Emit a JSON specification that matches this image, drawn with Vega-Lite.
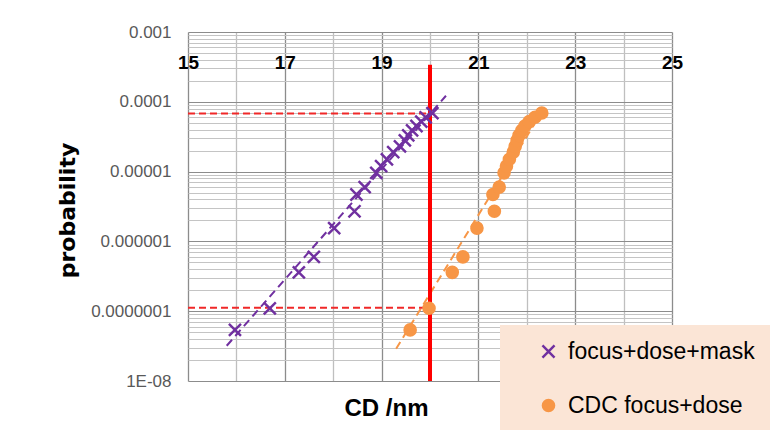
{
  "$schema": "https://vega.github.io/schema/vega-lite/v6.json",
  "autosize": {"type": "none"},
  "padding": {"left": 188, "top": 32, "right": 109, "bottom": 49},
  "width": 484,
  "height": 349,
  "background": "white",
  "config": {"view": {"stroke": null}, "font": "Liberation Sans"},
  "datasets": {
    "pts": [
      {"series": "focus+dose+mask", "cd": 15.97, "prob": 5.4e-8},
      {"series": "focus+dose+mask", "cd": 16.69, "prob": 1.1e-7},
      {"series": "focus+dose+mask", "cd": 17.29, "prob": 3.6e-7},
      {"series": "focus+dose+mask", "cd": 17.60, "prob": 6.0e-7},
      {"series": "focus+dose+mask", "cd": 18.02, "prob": 1.55e-6},
      {"series": "focus+dose+mask", "cd": 18.44, "prob": 2.7e-6},
      {"series": "focus+dose+mask", "cd": 18.48, "prob": 4.7e-6},
      {"series": "focus+dose+mask", "cd": 18.65, "prob": 6.0e-6},
      {"series": "focus+dose+mask", "cd": 18.89, "prob": 9.6e-6},
      {"series": "focus+dose+mask", "cd": 18.99, "prob": 1.2e-5},
      {"series": "focus+dose+mask", "cd": 19.11, "prob": 1.5e-5},
      {"series": "focus+dose+mask", "cd": 19.24, "prob": 1.9e-5},
      {"series": "focus+dose+mask", "cd": 19.38, "prob": 2.3e-5},
      {"series": "focus+dose+mask", "cd": 19.48, "prob": 2.8e-5},
      {"series": "focus+dose+mask", "cd": 19.55, "prob": 3.3e-5},
      {"series": "focus+dose+mask", "cd": 19.63, "prob": 3.9e-5},
      {"series": "focus+dose+mask", "cd": 19.72, "prob": 4.5e-5},
      {"series": "focus+dose+mask", "cd": 19.82, "prob": 5.2e-5},
      {"series": "focus+dose+mask", "cd": 19.91, "prob": 6.0e-5},
      {"series": "focus+dose+mask", "cd": 20.05, "prob": 6.9e-5},
      {"series": "CDC focus+dose", "cd": 19.59, "prob": 5.4e-8},
      {"series": "CDC focus+dose", "cd": 19.98, "prob": 1.1e-7},
      {"series": "CDC focus+dose", "cd": 20.46, "prob": 3.6e-7},
      {"series": "CDC focus+dose", "cd": 20.68, "prob": 6.0e-7},
      {"series": "CDC focus+dose", "cd": 20.97, "prob": 1.55e-6},
      {"series": "CDC focus+dose", "cd": 21.33, "prob": 2.7e-6},
      {"series": "CDC focus+dose", "cd": 21.30, "prob": 4.7e-6},
      {"series": "CDC focus+dose", "cd": 21.43, "prob": 6.0e-6},
      {"series": "CDC focus+dose", "cd": 21.53, "prob": 9.6e-6},
      {"series": "CDC focus+dose", "cd": 21.58, "prob": 1.2e-5},
      {"series": "CDC focus+dose", "cd": 21.64, "prob": 1.5e-5},
      {"series": "CDC focus+dose", "cd": 21.72, "prob": 1.9e-5},
      {"series": "CDC focus+dose", "cd": 21.76, "prob": 2.3e-5},
      {"series": "CDC focus+dose", "cd": 21.80, "prob": 2.8e-5},
      {"series": "CDC focus+dose", "cd": 21.84, "prob": 3.3e-5},
      {"series": "CDC focus+dose", "cd": 21.90, "prob": 3.9e-5},
      {"series": "CDC focus+dose", "cd": 21.96, "prob": 4.5e-5},
      {"series": "CDC focus+dose", "cd": 22.05, "prob": 5.2e-5},
      {"series": "CDC focus+dose", "cd": 22.17, "prob": 6.0e-5},
      {"series": "CDC focus+dose", "cd": 22.31, "prob": 6.9e-5}
    ],
    "fit": [
      {"series": "focus+dose+mask", "cd": 15.80, "prob": 3.2e-8},
      {"series": "focus+dose+mask", "cd": 20.33, "prob": 1.22e-4},
      {"series": "CDC focus+dose", "cd": 19.30, "prob": 2.9e-8},
      {"series": "CDC focus+dose", "cd": 22.39, "prob": 8.8e-5}
    ],
    "hrules": [
      {"prob": 6.8e-5, "cd1": 15, "cd2": 20},
      {"prob": 1.12e-7, "cd1": 15, "cd2": 20}
    ],
    "vrule": [
      {"cd": 20, "p1": 3.4e-4, "p2": 1e-8}
    ]
  },
  "layer": [
    {
      "data": {"name": "fit"},
      "transform": [{"filter": "datum.series == 'focus+dose+mask'"}],
      "mark": {"type": "line", "color": "#7030A0", "strokeWidth": 2, "strokeDash": [8, 5]},
      "encoding": {
        "x": {
          "field": "cd", "type": "quantitative",
          "scale": {"domain": [15, 25], "nice": false, "zero": false},
          "axis": {
            "orient": "top",
            "values": [15, 16, 17, 18, 19, 20, 21, 22, 23, 24, 25],
            "labelExpr": "datum.value % 2 == 1 ? datum.label : ''",
            "labelFont": "Liberation Sans",
            "labelFontWeight": "bold",
            "labelFontSize": 19,
            "labelColor": "black",
            "labelPadding": -30,
            "labelBaseline": "middle",
            "labelFlush": false,
            "labelOverlap": false,
            "labelBound": false,
            "ticks": false,
            "tickSize": 0,
            "domain": false,
            "grid": true,
            "gridColor": {"condition": {"test": "datum.value % 2 == 1", "value": "#8c8c8c"}, "value": "#bfbfbf"},
            "gridWidth": 1.3,
            "title": "CD /nm",
            "titleFont": "Liberation Sans",
            "titleFontSize": 24,
            "titleFontWeight": "bold",
            "titleColor": "black",
            "titleX": 198,
            "titleY": 364,
            "titleBaseline": "top",
            "titleAlign": "center",
            "titleAngle": 0
          }
        },
        "y": {
          "field": "prob", "type": "quantitative",
          "scale": {"type": "log", "domain": [1e-8, 1e-3], "nice": false},
          "axis": {
            "values": [1e-8, 2e-8, 3e-8, 4e-8, 5e-8, 6e-8, 7e-8, 8e-8, 9e-8,
                       1e-7, 2e-7, 3e-7, 4e-7, 5e-7, 6e-7, 7e-7, 8e-7, 9e-7,
                       1e-6, 2e-6, 3e-6, 4e-6, 5e-6, 6e-6, 7e-6, 8e-6, 9e-6,
                       1e-5, 2e-5, 3e-5, 4e-5, 5e-5, 6e-5, 7e-5, 8e-5, 9e-5,
                       1e-4, 2e-4, 3e-4, 4e-4, 5e-4, 6e-4, 7e-4, 8e-4, 9e-4, 1e-3],
            "labelExpr": "datum.value == 1e-8 ? '1E-08' : (abs(log(datum.value)/LN10 - round(log(datum.value)/LN10)) < 0.001 ? format(datum.value, '.7~f') : '')",
            "labelFont": "Liberation Sans",
            "labelFontSize": 17,
            "labelColor": "#595959",
            "labelPadding": 17,
            "labelOverlap": false,
            "labelBound": false,
            "labelFlush": false,
            "ticks": false,
            "tickSize": 0,
            "domain": false,
            "grid": true,
            "gridColor": {"condition": {"test": "abs(log(datum.value)/LN10 - round(log(datum.value)/LN10)) < 0.001", "value": "#8c8c8c"}, "value": "#c4c4c4"},
            "gridWidth": 1.2,
            "title": "probability",
            "titleFont": "DejaVu Sans",
            "titleFontSize": 22,
            "titleFontWeight": "bold",
            "titleColor": "black",
            "titleAngle": -90,
            "titleX": -121,
            "titleY": 178,
            "titleBaseline": "middle",
            "titleAlign": "center"
          }
        }
      }
    },
    {
      "data": {"name": "fit"},
      "transform": [{"filter": "datum.series == 'CDC focus+dose'"}],
      "mark": {"type": "line", "color": "#F79646", "strokeWidth": 2, "strokeDash": [8, 5]},
      "encoding": {
        "x": {"field": "cd", "type": "quantitative"},
        "y": {"field": "prob", "type": "quantitative"}
      }
    },
    {
      "data": {"name": "hrules"},
      "mark": {"type": "rule", "color": "#F02828", "strokeWidth": 2, "strokeDash": [7, 4]},
      "encoding": {
        "y": {"field": "prob", "type": "quantitative"},
        "x": {"field": "cd1", "type": "quantitative"},
        "x2": {"field": "cd2"}
      }
    },
    {
      "data": {"name": "vrule"},
      "mark": {"type": "rule", "color": "#FF0000", "strokeWidth": 4},
      "encoding": {
        "x": {"field": "cd", "type": "quantitative"},
        "y": {"field": "p1", "type": "quantitative"},
        "y2": {"field": "p2"}
      }
    },
    {
      "data": {"name": "pts"},
      "mark": {"type": "point", "filled": true, "opacity": 1, "strokeWidth": 0},
      "encoding": {
        "x": {"field": "cd", "type": "quantitative"},
        "y": {"field": "prob", "type": "quantitative"},
        "size": {
          "field": "series", "type": "nominal",
          "scale": {"domain": ["focus+dose+mask", "CDC focus+dose"], "range": [190, 185]},
          "legend": {
            "orient": "none", "legendX": 312, "legendY": 293, "title": null,
            "fillColor": "#FBE5D6", "padding": 15, "symbolOffset": 22,
            "labelFont": "Liberation Sans", "labelFontSize": 23, "labelColor": "black", "labelLimit": 400,
            "rowPadding": 30, "symbolSize": 200, "labelOffset": 8, "direction": "vertical"
          }
        },
        "color": {
          "field": "series", "type": "nominal",
          "scale": {"domain": ["focus+dose+mask", "CDC focus+dose"], "range": ["#7030A0", "#F79646"]},
          "legend": {
            "orient": "none", "legendX": 312, "legendY": 293, "title": null,
            "fillColor": "#FBE5D6", "padding": 15, "symbolOffset": 22,
            "labelFont": "Liberation Sans", "labelFontSize": 23, "labelColor": "black", "labelLimit": 400,
            "rowPadding": 30, "symbolSize": 200, "labelOffset": 8, "direction": "vertical"
          }
        },
        "shape": {
          "field": "series", "type": "nominal",
          "scale": {"domain": ["focus+dose+mask", "CDC focus+dose"], "range": ["M-1,-0.75L-0.75,-1L1,0.75L0.75,1ZM0.75,-1L1,-0.75L-0.75,1L-1,0.75Z", "circle"]},
          "legend": {
            "orient": "none", "legendX": 312, "legendY": 293, "title": null,
            "fillColor": "#FBE5D6", "padding": 15, "symbolOffset": 22,
            "labelFont": "Liberation Sans", "labelFontSize": 23, "labelColor": "black", "labelLimit": 400,
            "rowPadding": 30, "symbolSize": 200, "labelOffset": 8, "direction": "vertical"
          }
        }
      }
    }
  ]
}
